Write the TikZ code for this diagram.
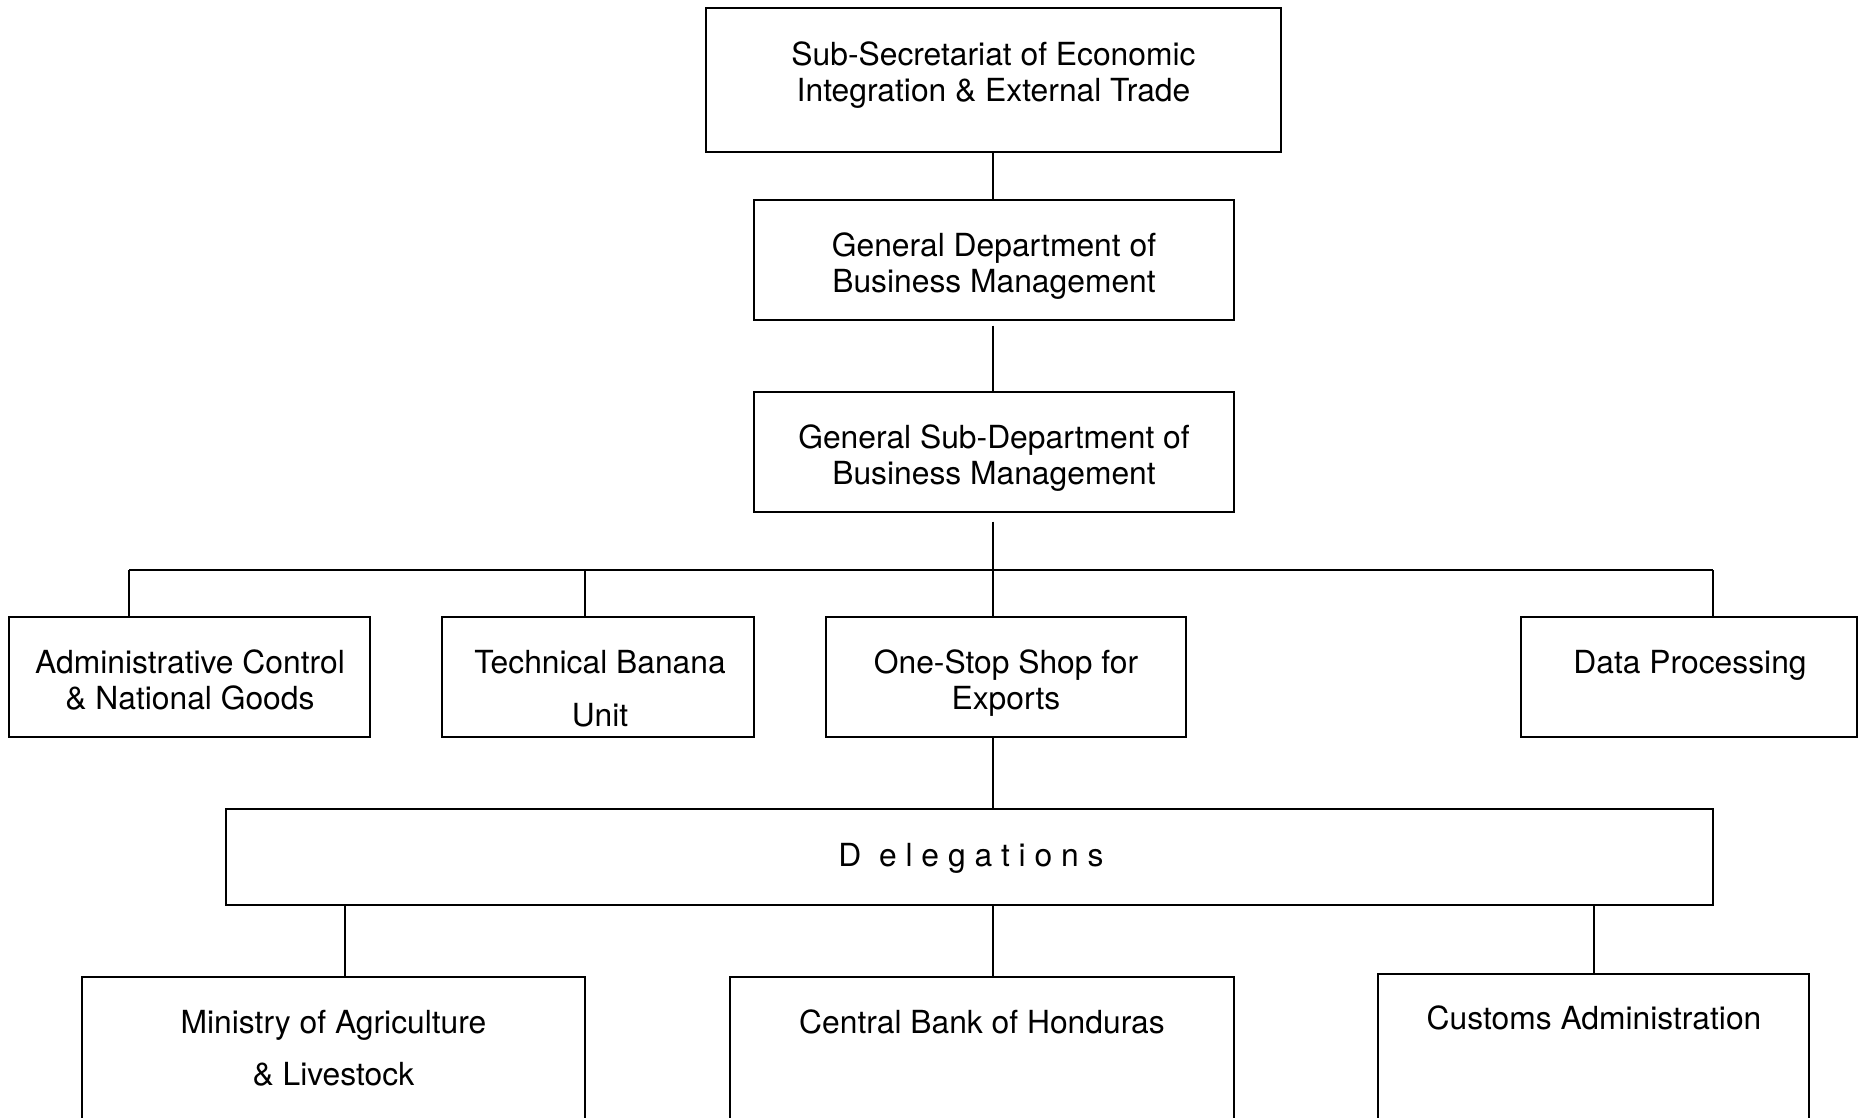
\documentclass[tikz,border=0pt]{standalone}
\usepackage{fontspec}
\setmainfont{TeX Gyre Heros}
\usetikzlibrary{fit}
\begin{document}
\begin{tikzpicture}[x=1pt,y=-1pt,
  box/.style={draw=black, line width=1.4pt, rectangle, inner sep=0pt},
  link/.style={draw=black, line width=2pt},
  lbl/.style={anchor=base, inner sep=0pt, font=\fontsize{31.8}{36}\selectfont}]
\useasboundingbox (0,0) rectangle (1858,1117);
\clip (0,0) rectangle (1858,1117);

% boxes of the chart
\node[box, fit={(706,8) (1281,152)}] (top) {};
\node[box, fit={(754,200) (1234,320)}] (gdm) {};
\node[box, fit={(754,392) (1234,512)}] (gsd) {};
\node[box, fit={(9,617) (370,737)}] (adm) {};
\node[box, fit={(442,617) (754,737)}] (tech) {};
\node[box, fit={(826,617) (1186,737)}] (one) {};
\node[box, fit={(1521,617) (1857,737)}] (data) {};
\node[box, fit={(226,809) (1713,905)}] (del) {};
\node[box, fit={(82,977) (585,1140)}] (min) {};
\node[box, fit={(730,977) (1234,1140)}] (cen) {};
\node[box, fit={(1378,974) (1809,1140)}] (cus) {};

% box texts
\node[lbl] (topT) at (993.5,65) {\begin{tabular}[t]{@{}c@{}}Sub-Secretariat of Economic\\Integration \& External Trade\end{tabular}};
\node[lbl] (gdmT) at (994,256) {\begin{tabular}[t]{@{}c@{}}General Department of\\Business Management\end{tabular}};
\node[lbl] (gsdT) at (994,448) {\begin{tabular}[t]{@{}c@{}}General Sub-Department of\\Business Management\end{tabular}};
\node[lbl] (admT) at (190,673) {\begin{tabular}[t]{@{}c@{}}Administrative Control\\\& National Goods\end{tabular}};
\node[lbl] (techT) at (600,673) {\begin{tabular}[t]{@{}c@{}}Technical Banana\\[17pt]Unit\end{tabular}};
\node[lbl] (oneT) at (1006,673) {\begin{tabular}[t]{@{}c@{}}One-Stop Shop for\\Exports\end{tabular}};
\node[lbl] (dataT) at (1690,673) {Data Processing};
\node[lbl] (delT) at (971,866) {D\ \ e l e g a t i o n s};
\node[lbl] (minT) at (333.5,1033) {\begin{tabular}[t]{@{}c@{}}Ministry of Agriculture\\[16pt]\& Livestock\end{tabular}};
\node[lbl] (cenT) at (982,1033) {Central Bank of Honduras};
\node[lbl] (cusT) at (1594,1029) {Customs Administration};

% junctions
\coordinate (bus) at (993,570);
\coordinate (jA) at (129,570);
\coordinate (jB) at (585,570);
\coordinate (jD) at (1713,570);
\coordinate (dA) at (345,905);
\coordinate (dB) at (993,905);
\coordinate (dC) at (1594,905);

% connectors
\draw[link] (top.south -| bus) -- (gdm.north -| bus);
\draw[link] ([yshift=-5pt]gdm.south -| bus) -- (gsd.north -| bus);
\draw[link] ([yshift=-9pt]gsd.south -| bus) -- (one.north -| bus);
\draw[link] (jA) -- (jD);
\draw[link] (jA) -- (jA |- adm.north);
\draw[link] (jB) -- (jB |- tech.north);
\draw[link] (jD) -- (jD |- data.north);
\draw[link] (one.south -| bus) -- (del.north -| bus);
\draw[link] (dA) -- (dA |- min.north);
\draw[link] (dB) -- (dB |- cen.north);
\draw[link] (dC) -- (dC |- cus.north);
\end{tikzpicture}
\end{document}
